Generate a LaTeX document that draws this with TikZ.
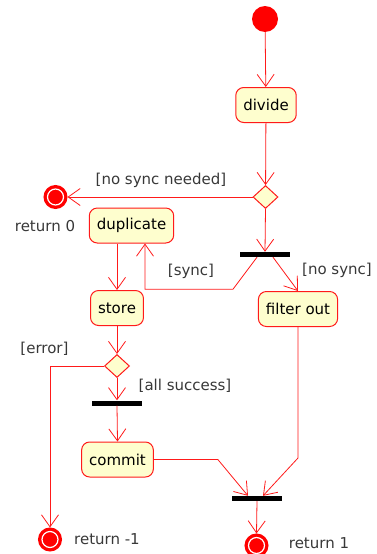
\documentclass[tikz,border=0pt]{standalone}
\usepackage{fontspec}
\setmainfont{DejaVu Sans}
\usepackage{xcolor}
\usetikzlibrary{arrows.meta,shapes.geometric}
\definecolor{Note}{HTML}{FEFECE}
\definecolor{Edge}{HTML}{FF1A1A}
\definecolor{Dot}{HTML}{FF0000}
\definecolor{Ink}{HTML}{000000}
\definecolor{Muted}{HTML}{383838}
\tikzset{
  act/.style={draw=Edge,fill=Note,rounded corners=8pt,line width=1pt,minimum height=35pt,inner xsep=7.5pt,font=\fontsize{15}{18}\selectfont,text=Ink},
  choice/.style={draw=Edge,fill=Note,diamond,minimum width=25pt,minimum height=23pt,inner sep=0pt,line width=1pt},
  bar/.style={fill=black,minimum width=50pt,minimum height=5pt,inner sep=0pt},
  startdot/.style={circle,fill=Dot,minimum size=26pt,inner sep=0pt},
  stopdot/.style={circle,fill=Dot,draw=Dot,line width=2pt,minimum size=22pt,inner sep=0pt,
    path picture={\draw[white,line width=1.2pt] (path picture bounding box.center) circle (8pt);}},
  guard/.style={font=\fontsize{15}{18}\selectfont,text=Muted,inner sep=0pt},
  arr/.style={-{Straight Barb[length=12pt,width=17pt]},draw=Edge,line width=0.8pt}
}
\begin{document}
\begin{tikzpicture}[x=1pt,y=-1pt]
  \useasboundingbox (0,0) rectangle (376,554);
  % nodes
  \node[startdot] (start) at (265,19) {};
  \node[act] (divide) at (266,105) {divide};
  \node[choice] (needsync) at (265.5,197) {};
  \node[stopdot] (ret0) at (55.5,197) {};
  \node[act] (dup) at (131.5,225.5) {duplicate};
  \node[bar] (fork) at (265,254.5) {};
  \node[act] (filter) at (298,309) {filter out};
  \node[act] (store) at (117,308) {store};
  \node[choice] (result) at (117,366) {};
  \node[bar] (join) at (117,403) {};
  \node[act] (commit) at (117.5,459.5) {commit};
  \node[bar] (merge) at (257,498.5) {};
  \node[stopdot] (retm) at (50,539.5) {};
  \node[stopdot] (ret1) at (256.5,545.5) {};
  % labels
  \node[guard] (lnosyncneed) at (161,180) {[no sync needed]};
  \node[guard] (lret0) at (45,226) {return 0};
  \node[guard] (lsync) at (191,271) {[sync]};
  \node[guard] (lnosync) at (337,270) {[no sync]};
  \node[guard] (lerror) at (44.5,349) {[error]};
  \node[guard] (lsuccess) at (185,386) {[all success]};
  \node[guard] (lretm) at (107,539) {return -1};
  \node[guard] (lret1) at (319,543) {return 1};
  % flow
  \draw[arr] (start) -- (divide);
  \draw[arr] (divide) -- (needsync);
  \draw[arr] (needsync.west) -- (ret0.east);
  \draw[arr] (needsync.south) -- (fork.north);
  \draw[arr] ([xshift=-8pt]fork.south) -- ++(-24,32) -| ([xshift=13.5pt]dup.south);
  \draw[arr] ([xshift=8pt]fork.south) -- (filter.north);
  \draw[arr] (store.north |- dup.south) -- (store.north);
  \draw[arr] (store.south) -- (result.north);
  \draw[arr] (result.west) -| (retm.north);
  \draw[arr] (result.south) -- (join.north);
  \draw[arr] (join.south) -- (commit.north);
  \draw[arr] (commit.east) -- ++(64,0) -- ([xshift=-9pt]merge.north);
  \draw[arr] (filter.south) -- ++(0,131) -- ([xshift=6pt]merge.north);
  \draw[arr] (merge.south) -- (ret1.north);
\end{tikzpicture}
\end{document}
